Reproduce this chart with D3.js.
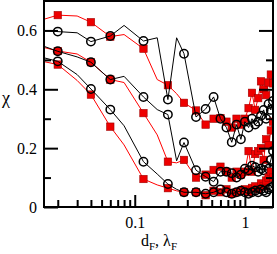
<!DOCTYPE html>
<html>
<head>
<meta charset="utf-8">
<script src="https://cdn.jsdelivr.net/npm/d3@7"></script>
<style>
body { margin: 0; background: #fff; }
text { font-family: "Liberation Serif", "DejaVu Serif", serif; fill: #000; }
</style>
</head>
<body>
<div id="chart"></div>
<script>
// shared x positions (d_F, lambda_F)
var dF = [0.015, 0.02, 0.03, 0.04, 0.06, 0.08, 0.12, 0.16, 0.2, 0.24, 0.28,
    0.36, 0.44, 0.52, 0.60, 0.68, 0.76, 0.84, 0.92, 1.00, 1.08,
    1.16, 1.24, 1.32, 1.40, 1.48, 1.56, 1.64, 1.72, 1.80];
// points drawn as plain line vertices (no symbol)
var plainX = [0.015, 0.03, 0.08, 0.16, 0.24];

var chiRedTop = [0.638, 0.652, 0.649, 0.628, 0.579, 0.586, 0.538, 0.433, 0.414, 0.385, 0.354,
    0.328, 0.28, 0.30, 0.302, 0.29, 0.27, 0.30, 0.28, 0.30, 0.336,
    0.388, 0.33, 0.37, 0.427, 0.40, 0.38, 0.423, 0.45, 0.42];
var chiBlackTop = [0.60, 0.596, 0.592, 0.562, 0.581, 0.617, 0.564, 0.575, 0.365, 0.575, 0.521,
    0.306, 0.333, 0.374, 0.30, 0.27, 0.22, 0.28, 0.23, 0.29, 0.27,
    0.30, 0.28, 0.29, 0.31, 0.33, 0.30, 0.35, 0.33, 0.36];
var chiRedMid = [0.542, 0.53, 0.52, 0.492, 0.433, 0.423, 0.319, 0.245, 0.154, 0.15, 0.16,
    0.10, 0.11, 0.126, 0.137, 0.12, 0.10, 0.12, 0.11, 0.12, 0.19,
    0.12, 0.18, 0.19, 0.20, 0.16, 0.23, 0.21, 0.26, 0.29];
var chiBlackMid = [0.546, 0.529, 0.51, 0.492, 0.433, 0.444, 0.374, 0.331, 0.314, 0.157, 0.219,
    0.125, 0.103, 0.086, 0.12, 0.12, 0.115, 0.10, 0.11, 0.13, 0.125,
    0.14, 0.135, 0.12, 0.13, 0.125, 0.14, 0.13, 0.16, 0.19];
var chiRedLow = [0.494, 0.484, 0.43, 0.382, 0.273, 0.211, 0.095, 0.075, 0.064, 0.055, 0.05,
    0.05, 0.04, 0.055, 0.05, 0.06, 0.045, 0.05, 0.055, 0.06, 0.05,
    0.065, 0.07, 0.06, 0.08, 0.07, 0.09, 0.10, 0.12, 0.10];
var chiBlackLow = [0.507, 0.495, 0.45, 0.401, 0.331, 0.276, 0.154, 0.112, 0.078, 0.06, 0.05,
    0.05, 0.045, 0.05, 0.06, 0.05, 0.045, 0.05, 0.055, 0.05, 0.045,
    0.05, 0.055, 0.05, 0.06, 0.055, 0.05, 0.06, 0.065, 0.07];

var yMajor = [0, 0.2, 0.4, 0.6];
var yMinor = [0.1, 0.3, 0.5];
var xMajor = [0.1, 1];
var xMinor = [0.02, 0.03, 0.04, 0.05, 0.06, 0.07, 0.08, 0.09,
    0.2, 0.3, 0.4, 0.5, 0.6, 0.7, 0.8, 0.9];

function draw() {
    var w = 277, h = 254;
    var left = 44, top = 1, right = 273, bottom = 207;

    var xScale = d3.scaleLog().domain([0.015, 1.8]).range([left, right]);
    var yScale = d3.scaleLinear().domain([0, 0.7]).range([bottom, top]);

    var svg = d3.select("#chart").append("svg").attr("width", w).attr("height", h);

    svg.append("clipPath").attr("id", "plotClip")
        .append("rect")
        .attr("x", left).attr("y", top)
        .attr("width", right - left).attr("height", bottom - top);

    var plot = svg.append("g").attr("clip-path", "url(#plotClip)");

    var line = d3.line()
        .x(function(d) { return xScale(d[0]); })
        .y(function(d) { return yScale(d[1]); });

    var series = [
        { vals: chiRedTop, kind: "red" },
        { vals: chiBlackTop, kind: "black" },
        { vals: chiRedMid, kind: "red" },
        { vals: chiBlackMid, kind: "black" },
        { vals: chiRedLow, kind: "red" },
        { vals: chiBlackLow, kind: "black" }
    ];

    series.forEach(function(s) {
        var pts = dF.map(function(x, i) { return [x, s.vals[i]]; });
        var col = s.kind == "red" ? "#ff0000" : "#000";
        plot.append("path").datum(pts)
            .attr("fill", "none")
            .attr("stroke", col)
            .attr("stroke-width", 1)
            .attr("d", line);

        var marked = pts.filter(function(d) { return plainX.indexOf(d[0]) < 0; });
        if (s.kind == "red") {
            plot.selectAll(null).data(marked).enter().append("rect")
                .attr("x", function(d) { return xScale(d[0]) - 3.7; })
                .attr("y", function(d) { return yScale(d[1]) - 3.7; })
                .attr("width", 7.4).attr("height", 7.4)
                .attr("fill", "#ee0000")
                .attr("stroke", "#a00000")
                .attr("stroke-width", 0.6);
        } else {
            plot.selectAll(null).data(marked).enter().append("circle")
                .attr("cx", function(d) { return xScale(d[0]); })
                .attr("cy", function(d) { return yScale(d[1]); })
                .attr("r", 4.2)
                .attr("fill", "none")
                .attr("stroke", "#000")
                .attr("stroke-width", 1.5);
        }
    });

    // axes, ticks pointing inward
    var yAxis = d3.axisLeft(yScale).tickValues(yMajor).tickSize(-14).tickPadding(7)
        .tickFormat(function(d) { return d == 0 ? "0" : d3.format(".1f")(d); });
    var yAxisMinor = d3.axisLeft(yScale).tickValues(yMinor).tickSize(-7).tickFormat("");
    var yRight = d3.axisRight(yScale).tickValues(yMajor).tickSize(-14).tickFormat("");
    var yRightMinor = d3.axisRight(yScale).tickValues(yMinor).tickSize(-7).tickFormat("");
    var xAxis = d3.axisBottom(xScale).tickValues(xMajor).tickSize(-12).tickPadding(10)
        .tickFormat(function(d) { return d == 1 ? "1" : "0.1"; });
    var xAxisMinor = d3.axisBottom(xScale).tickValues(xMinor).tickSize(-7).tickFormat("");

    function styleAxis(g) {
        g.select(".domain").remove();
        g.selectAll("line").attr("stroke", "#000").attr("stroke-width", 2);
        g.selectAll("text").attr("font-size", 16).style("font-family", "Liberation Serif");
    }

    svg.append("g").attr("transform", "translate(" + left + ",0)").call(yAxis).call(styleAxis);
    svg.append("g").attr("transform", "translate(" + left + ",0)").call(yAxisMinor).call(styleAxis);
    svg.append("g").attr("transform", "translate(" + right + ",0)").call(yRight).call(styleAxis);
    svg.append("g").attr("transform", "translate(" + right + ",0)").call(yRightMinor).call(styleAxis);
    svg.append("g").attr("transform", "translate(0," + bottom + ")").call(xAxis).call(styleAxis);
    svg.append("g").attr("transform", "translate(0," + bottom + ")").call(xAxisMinor).call(styleAxis);

    // frame
    svg.append("rect")
        .attr("x", left).attr("y", top)
        .attr("width", right - left).attr("height", bottom - top)
        .attr("fill", "none")
        .attr("stroke", "#000")
        .attr("stroke-width", 2);

    svg.append("text")
        .attr("x", 2).attr("y", 104)
        .attr("font-size", 18)
        .text("χ");

    var xt = svg.append("text")
        .attr("x", 159).attr("y", 246)
        .attr("text-anchor", "middle")
        .attr("font-size", 16);
    xt.append("tspan").text("d");
    xt.append("tspan").attr("font-size", 11).attr("dy", 4).text("F");
    xt.append("tspan").attr("dy", -4).text(", λ");
    xt.append("tspan").attr("font-size", 11).attr("dy", 4).text("F");
}

window.onload = draw;
</script>
</body>
</html>
